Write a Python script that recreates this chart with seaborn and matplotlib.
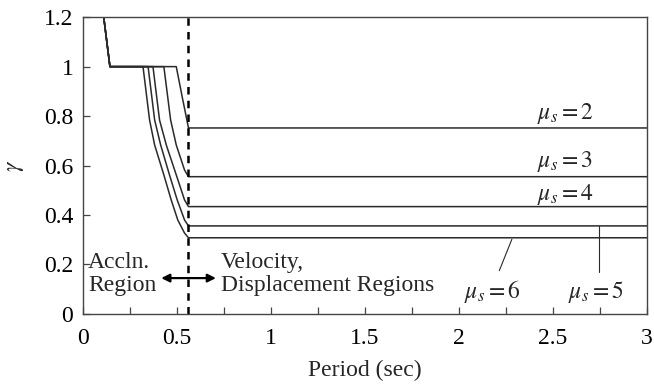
import matplotlib
matplotlib.use("Agg")
import matplotlib.pyplot as plt
import seaborn as sns
import pandas as pd

# shared acceleration-region part of every curve
head_x = [0.11, 0.143]
head_y = [1.2, 1.0]

# descending branches, one per ductility level
curves = {
    2: ([0.496, 0.527, 0.561, 3.0], [1.0, 0.88, 0.752, 0.752]),
    3: ([0.430, 0.466, 0.496, 0.540, 0.561, 3.0], [1.0, 0.784, 0.683, 0.582, 0.555, 0.555]),
    4: ([0.372, 0.407, 0.443, 0.496, 0.540, 0.561, 3.0], [1.0, 0.784, 0.683, 0.562, 0.461, 0.434, 0.434]),
    5: ([0.346, 0.381, 0.413, 0.460, 0.501, 0.540, 0.561, 3.0], [1.0, 0.784, 0.683, 0.562, 0.461, 0.380, 0.356, 0.356]),
    6: ([0.319, 0.354, 0.381, 0.430, 0.469, 0.504, 0.540, 0.561, 3.0], [1.0, 0.784, 0.683, 0.562, 0.461, 0.380, 0.327, 0.308, 0.308]),
}

boundary_T = 0.56
label_pos = {2: (2.566, 0.81), 3: (2.566, 0.615), 4: (2.566, 0.481), 6: (2.18, 0.09), 5: (2.73, 0.09)}
leaders = {6: ([2.282, 2.215], [0.302, 0.175]), 5: ([2.744, 2.744], [0.356, 0.171])}

x_ticks = [0, 0.5, 1, 1.5, 2, 2.5, 3]
x_tick_labels = ["0", "0.5", "1", "1.5", "2", "2.5", "3"]
y_ticks = [0, 0.2, 0.4, 0.6, 0.8, 1.0, 1.2]
y_tick_labels = ["0", "0.2", "0.4", "0.6", "0.8", "1", "1.2"]

sns.set_style("ticks")
plt.rcParams["font.family"] = ["Liberation Serif", "DejaVu Serif"]
plt.rcParams["mathtext.fontset"] = "stix"

fig = plt.figure(figsize=(6.54, 3.90), dpi=100)
ax = fig.add_axes([0.127, 0.195, 0.862, 0.761])

ink = "#2a2a2a"
fs = 17
for mu, (xs, ys) in curves.items():
    df = pd.DataFrame({"T": head_x + xs, "g": head_y + ys})
    sns.lineplot(data=df, x="T", y="g", ax=ax, color=ink, lw=1.1,
                 sort=False, estimator=None)

ax.plot([boundary_T, boundary_T], [0, 1.2], color="black", lw=1.8, ls=(0, (3, 2.5)))

for mu, (lx, ly) in leaders.items():
    ax.plot(lx, ly, color=ink, lw=0.8)

for mu, (tx, ty) in label_pos.items():
    ax.text(tx, ty, rf"$\mu_s = {mu}$", fontsize=fs, ha="center", va="center")

ax.annotate("", xy=(0.416, 0.145), xytext=(0.707, 0.145),
            arrowprops=dict(arrowstyle="<|-|>", color="black", lw=1.6,
                            mutation_scale=12, shrinkA=0, shrinkB=0))
ax.text(0.026, 0.162, "Accln.\nRegion", fontsize=fs, ha="left", va="center",
        linespacing=1.15)
ax.text(0.735, 0.162, "Velocity,\nDisplacement Regions", fontsize=fs,
        ha="left", va="center", linespacing=1.15)

ax.set_xlim(0, 3)
ax.set_ylim(0, 1.2)
ax.set_xticks(x_ticks)
ax.set_xticklabels(x_tick_labels)
ax.set_xticks([0.25, 0.75, 1.25, 1.75, 2.25, 2.75], minor=True)
ax.set_yticks(y_ticks)
ax.set_yticklabels(y_tick_labels)
ax.tick_params(axis="both", which="both", direction="in", length=5, width=0.9,
               colors="#444444", labelcolor="black", labelsize=fs, pad=7)
ax.tick_params(axis="x", which="both", pad=10)
ax.set_xlabel("Period (sec)", fontsize=fs, labelpad=8)
ax.set_ylabel(r"$\gamma$", fontsize=fs, labelpad=13)
for s in ax.spines.values():
    s.set_color("#444444")
    s.set_linewidth(1.0)

fig.savefig("out.png", dpi=100)
